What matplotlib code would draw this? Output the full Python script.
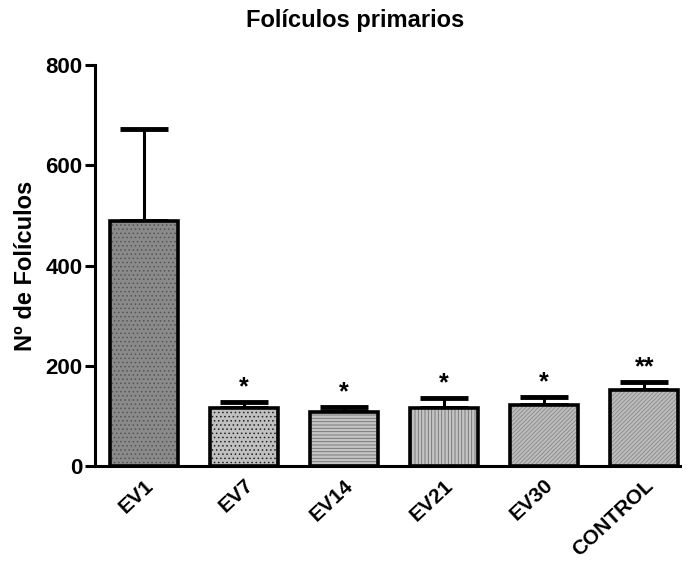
import matplotlib
matplotlib.use("Agg")
import matplotlib.pyplot as plt

plt.rcParams["font.family"] = ["Liberation Sans", "DejaVu Sans"]
plt.rcParams["hatch.linewidth"] = 0.6

groups = ["EV1", "EV7", "EV14", "EV21", "EV30", "CONTROL"]
means = [489, 116, 108, 116, 122, 152]
errors = [183, 12, 10, 20, 16, 16]
marks = ["", "*", "*", "*", "*", "**"]
fills = ["#8a8a8a", "#c0c0c0", "#c4c4c4", "#c4c4c4", "#bcbcbc", "#bcbcbc"]
hatches = ["....", "....", "-----", "|||||", "////////", "////////"]
hatch_colors = ["#555555", "#222222", "#707070", "#707070", "#8a8a8a", "#8a8a8a"]

fig = plt.figure(figsize=(6.86, 5.66), dpi=100)
ax = fig.add_axes([0.1385, 0.1767, 0.853, 0.708])

x = list(range(len(groups)))
for i in x:
    ax.bar(i, means[i], width=0.68, color=fills[i], edgecolor=hatch_colors[i],
           linewidth=0, hatch=hatches[i], zorder=2)
    ax.bar(i, means[i], width=0.68, fill=False, edgecolor="black",
           linewidth=2.6, zorder=3)
    ax.errorbar(i, means[i], yerr=[[0], [errors[i]]], fmt="none",
                ecolor="black", elinewidth=2.2, capsize=17, capthick=3.5,
                zorder=1)
    if marks[i]:
        ax.text(i, means[i] + errors[i] + 6, marks[i], ha="center",
                va="bottom", fontsize=18, fontweight="bold")

ax.set_xlim(-0.49, 5.36)
ax.set_ylim(0, 800)
ax.set_yticks([0, 200, 400, 600, 800])
ax.set_xticks(x)
ax.set_xticklabels(groups, rotation=43, ha="right", rotation_mode="anchor",
                   fontsize=15, fontweight="bold")
for lab in ax.get_yticklabels():
    lab.set_fontsize(16)
    lab.set_fontweight("bold")
ax.tick_params(axis="y", width=2.2, length=7, pad=2)
ax.tick_params(axis="x", length=0, pad=7)
for s in ["top", "right"]:
    ax.spines[s].set_visible(False)
for s in ["left", "bottom"]:
    ax.spines[s].set_linewidth(2.2)

ax.set_ylabel("Nº de Folículos", fontsize=17, fontweight="bold")
ax.yaxis.set_label_coords(-0.099, 0.5)
fig.text(355 / 686, 1 - 20 / 566, "Folículos primarios", ha="center",
         va="center", fontsize=17, fontweight="bold")

fig.savefig("out.png", dpi=100)
